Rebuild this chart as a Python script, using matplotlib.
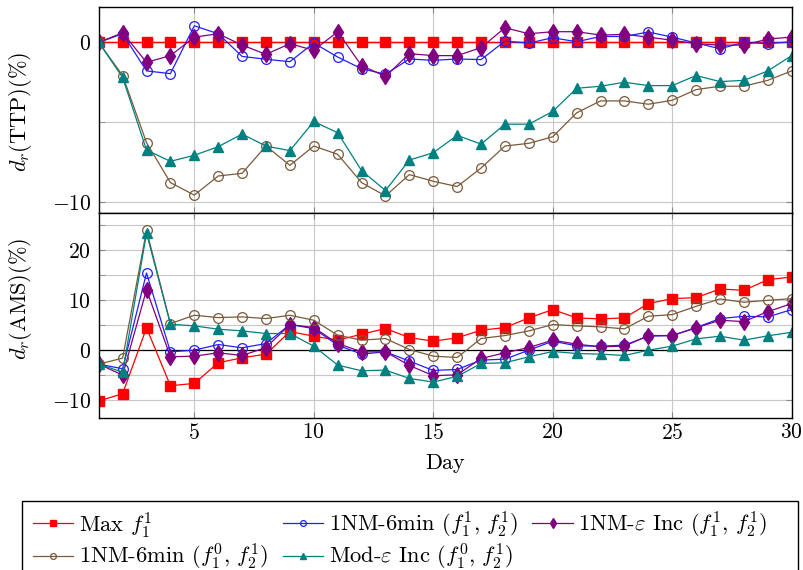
import numpy as np
import matplotlib
matplotlib.use("Agg")
import matplotlib.pyplot as plt
from matplotlib.ticker import MultipleLocator
from matplotlib.patches import Rectangle

# fuentes tipo LaTeX
plt.rcParams['font.family'] = 'serif'
plt.rcParams['font.serif'] = ['cmr10']
plt.rcParams['mathtext.fontset'] = 'cm'
plt.rcParams['axes.formatter.use_mathtext'] = True

days = list(range(1, 31))

# d_r(TTP) (%)
ttp_max = [0]*30
ttp_nm6_11 = [0, 0.54, -1.79, -1.96, 1.04, 0.54, -0.88, -1.06, -1.21, -0.04,
              -0.92, -1.65, -2.0, -1.04, -1.13, -1.04, -1.08, 0.08, -0.04, 0.29,
              0.04, 0.37, 0.37, 0.65, 0.33, -0.04, -0.4, 0, -0.08, 0.04]
ttp_eps_11 = [0, 0.6, -1.25, -0.83, 0.33, 0.54, -0.17, -0.75, -0.08, -0.5,
              0.67, -1.46, -2.13, -0.71, -0.83, -0.83, -0.33, 0.92, 0.54, 0.67,
              0.67, 0.46, 0.5, 0.33, 0.13, -0.08, -0.17, -0.17, 0.21, 0.33]
ttp_nm6_01 = [0, -2.08, -6.29, -8.79, -9.58, -8.38, -8.21, -6.5, -7.71, -6.5,
              -7.02, -8.79, -9.63, -8.29, -8.71, -9.04, -7.88, -6.5, -6.33, -5.92,
              -4.42, -3.67, -3.67, -3.88, -3.63, -2.96, -2.75, -2.75, -2.38, -1.79]
ttp_mod_01 = [0, -2.2, -6.75, -7.46, -7.08, -6.54, -5.75, -6.5, -6.79, -4.96,
              -5.67, -8.04, -9.29, -7.38, -6.92, -5.83, -6.38, -5.13, -5.13, -4.33,
              -2.88, -2.75, -2.5, -2.71, -2.71, -2.08, -2.46, -2.38, -1.79, -0.83]

# d_r(AMS) (%)
ams_max = [-10.2, -8.73, 4.47, -7.13, -6.67, -2.53, -1.53, -0.8, 3.73, 2.8,
           2.0, 3.2, 4.33, 2.53, 1.8, 2.47, 4.0, 4.53, 6.47, 8.13,
           6.47, 6.27, 6.47, 9.33, 10.33, 10.53, 12.27, 12.0, 14.13, 14.67]
ams_nm6_11 = [-2.8, -3.73, 15.47, -0.33, 0, 1.13, 0.47, 1.33, 5.13, 4.33,
              1.0, -0.8, -0.33, -2.2, -4.07, -3.87, -2.0, -1.8, 0, 1.8,
              0.87, 0.8, 1.0, 2.8, 2.93, 4.53, 6.33, 6.8, 6.67, 8.13]
ams_eps_11 = [-2.8, -5.0, 12.13, -1.33, -1.2, -0.53, -1.07, 0.53, 5.13, 4.53,
              1.33, -0.33, -0.33, -3.07, -5.13, -4.93, -1.67, -0.53, 0.53, 2.0,
              1.2, 0.67, 0.8, 2.93, 2.93, 4.47, 6.0, 5.73, 7.73, 9.33]
ams_nm6_01 = [-2.8, -1.6, 24.0, 5.33, 7.0, 6.53, 6.67, 6.33, 7.0, 6.0,
              3.0, 2.0, 2.33, 0.13, -1.2, -1.47, 2.33, 2.93, 3.87, 5.13,
              4.87, 4.67, 4.27, 6.8, 7.13, 8.8, 10.27, 9.6, 10.0, 10.33]
ams_mod_01 = [-2.8, -4.4, 23.47, 5.2, 4.87, 4.2, 3.87, 3.33, 3.33, 0.8,
              -3.0, -4.13, -4.0, -5.67, -6.4, -5.27, -2.67, -2.53, -1.33, -0.27,
              -0.67, -0.8, -1.07, 0, 0.8, 2.27, 2.8, 2.0, 2.87, 3.6]

labels = ["Max $f_1^1$",
          "1NM-6min $(f_1^1,\\,f_2^1)$",
          "1NM-$\\varepsilon$ Inc $(f_1^1,\\,f_2^1)$",
          "1NM-6min $(f_1^0,\\,f_2^1)$",
          "Mod-$\\varepsilon$ Inc $(f_1^0,\\,f_2^1)$"]

estilos = [dict(color='#ff0000', marker='s', ms=6.5, mfc='#ff0000', mec='#ff0000'),
           dict(color='#2020ff', marker='o', ms=7, mfc='none', mec='#2020ff', mew=0.9),
           dict(color='#800080', marker='d', ms=8.5, mfc='#800080', mec='#800080'),
           dict(color='#7a5a3a', marker='o', ms=7, mfc='none', mec='#7a5a3a', mew=0.9),
           dict(color='#008080', marker='^', ms=7.5, mfc='#008080', mec='#008080')]

fig = plt.figure(figsize=(8.04, 5.70), dpi=100)
ax1 = fig.add_axes([0.1228, 0.6263, 0.8619, 0.3609])
ax2 = fig.add_axes([0.1228, 0.2667, 0.8619, 0.3596])

top_series = [ttp_max, ttp_nm6_11, ttp_eps_11, ttp_nm6_01, ttp_mod_01]
bot_series = [ams_max, ams_nm6_11, ams_eps_11, ams_nm6_01, ams_mod_01]

lineas = []
for serie, est, lab in zip(top_series, estilos, labels):
    l, = ax1.plot(days, serie, lw=0.9, label=lab, **est)
    lineas.append(l)
for serie, est in zip(bot_series, estilos):
    ax2.plot(days, serie, lw=0.9, **est)

for ax in (ax1, ax2):
    ax.set_xlim(1, 30)
    ax.set_xticks([5, 10, 15, 20, 25, 30])
    ax.axhline(0, color='black', lw=0.9, zorder=1.5)
    ax.grid(True, which='both', color='#c8c8c8', lw=0.8)
    ax.set_axisbelow(True)
    ax.tick_params(which='both', direction='in', labelsize=15.5, length=4,
                   color='#888888')
    ax.tick_params(axis='y', pad=5.5)
    ax.tick_params(axis='x', top=True)
    ax.tick_params(axis='y', right=True)
    for s in ax.spines.values():
        s.set_linewidth(1.0)

ax1.set_ylim(-10.7, 2.2)
ax1.set_yticks([0, -10])
ax1.yaxis.set_minor_locator(MultipleLocator(5))
ax1.tick_params(axis='x', labelbottom=False)

ax2.set_ylim(-13.6, 27.5)
ax2.set_yticks([-10, 0, 10, 20])
ax2.yaxis.set_minor_locator(MultipleLocator(5))

ax1.set_ylabel("$d_r$(TTP)(%)", fontsize=16)
ax2.set_ylabel("$d_r$(AMS)(%)", fontsize=16)
ax1.yaxis.set_label_coords(-0.094, 0.49)
ax2.yaxis.set_label_coords(-0.094, 0.58)
ax2.set_xlabel("Day", fontsize=16)
ax2.xaxis.set_label_coords(0.5, -0.175)

# leyenda con caja que se corta abajo
fig.patches.append(Rectangle((22/804, -0.05), (798-22)/804, 1 - 501/570 + 0.05,
                             transform=fig.transFigure, fill=False,
                             edgecolor='black', lw=1.0))
orden = [0, 3, 1, 4, 2]
fig.legend([lineas[i] for i in orden], [labels[i] for i in orden],
           ncol=3, loc='upper left', bbox_to_anchor=(17/804, 1 - 494/570),
           frameon=False, fontsize=16.2, markerscale=0.6, handlelength=1.8,
           handletextpad=0.25, columnspacing=0.65, labelspacing=0.1,
           borderpad=0.2)

fig.savefig("out.png", dpi=100)
